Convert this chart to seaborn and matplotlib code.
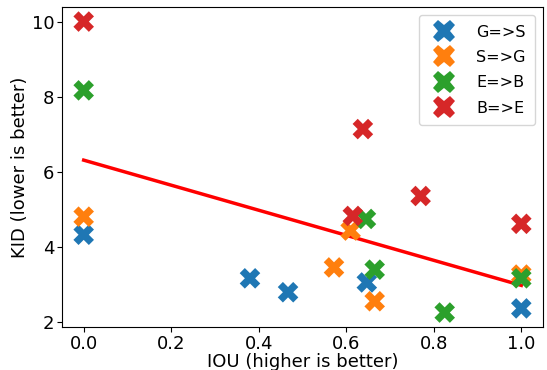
import pandas as pd
import matplotlib
matplotlib.use('Agg')
import matplotlib.pyplot as plt
import seaborn as sns

# IOU / KID values per translation direction
iou_gs = [0.0, 0.38, 0.467, 0.647, 1.0]
kid_gs = [4.33, 3.17, 2.80, 3.06, 2.37]
iou_sg = [0.0, 0.572, 0.61, 0.665, 1.0]
kid_sg = [4.81, 3.46, 4.44, 2.56, 3.27]
iou_eb = [0.0, 0.645, 0.665, 0.825, 1.0]
kid_eb = [8.17, 4.75, 3.40, 2.26, 3.17]
iou_be = [0.0, 0.638, 0.615, 0.77, 1.0]
kid_be = [10.0, 7.14, 4.83, 5.36, 4.62]
directions = ['G=>S', 'S=>G', 'E=>B', 'B=>E']

data = pd.DataFrame({
    'iou': iou_gs + iou_sg + iou_eb + iou_be,
    'kid': kid_gs + kid_sg + kid_eb + kid_be,
    'direction': [d for d in directions for _ in range(5)],
})

fig, ax = plt.subplots(figsize=(5.47, 3.7), dpi=100)
fig.subplots_adjust(left=0.113, right=0.993, top=0.981, bottom=0.116)

# regression line over all points
sns.regplot(data=data, x='iou', y='kid', scatter=False, ci=None,
            color='red', line_kws={'linewidth': 2.5}, ax=ax)
sns.scatterplot(data=data, x='iou', y='kid', hue='direction', hue_order=directions,
                palette='tab10', marker='X', s=220, linewidth=0, ax=ax, zorder=3)

ax.set_xlabel('IOU (higher is better)', fontsize=13, labelpad=0)
ax.set_ylabel('KID (lower is better)', fontsize=13, labelpad=2)
ax.tick_params(labelsize=13, pad=2)
ax.set_xticks([0.0, 0.2, 0.4, 0.6, 0.8, 1.0])
ax.set_yticks([2, 4, 6, 8, 10])

leg = ax.legend(loc='upper right', fontsize=11.5, borderpad=0.6,
                labelspacing=0.65, handletextpad=1.0)
for h in leg.legend_handles:
    h.set_markersize(16)

fig.savefig('out.png', dpi=100)
